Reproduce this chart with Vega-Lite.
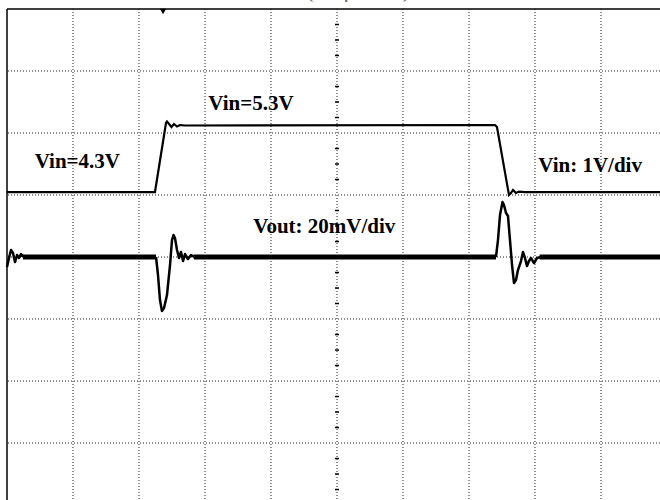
{
  "$schema": "https://vega.github.io/schema/vega-lite/v6.json",
  "width": 653,
  "height": 491,
  "autosize": {"type": "none"},
  "padding": {"left": 7, "top": 9, "right": 0, "bottom": 0},
  "background": "white",
  "config": {"view": {"stroke": null}},
  "datasets": {
    "gridx": [{"t": 1}, {"t": 2}, {"t": 3}, {"t": 4}, {"t": 5}, {"t": 6}, {"t": 7}, {"t": 8}, {"t": 9}],
    "gridy": [{"v": 1}, {"v": 2}, {"v": 3}, {"v": 4}, {"v": 5}, {"v": 6}, {"v": 7}],
    "ticks": [
      {"v": 0.25}, {"v": 0.5}, {"v": 0.75}, {"v": 1.25}, {"v": 1.5}, {"v": 1.75},
      {"v": 2.25}, {"v": 2.5}, {"v": 2.75}, {"v": 3.25}, {"v": 3.5}, {"v": 3.75},
      {"v": 4.25}, {"v": 4.5}, {"v": 4.75}, {"v": 5.25}, {"v": 5.5}, {"v": 5.75},
      {"v": 6.25}, {"v": 6.5}, {"v": 6.75}, {"v": 7.25}, {"v": 7.5}, {"v": 7.75}
    ],
    "vin": [
      {"t": 0, "v": 5.048}, {"t": 2.242, "v": 5.048}, {"t": 2.409, "v": 6.161},
      {"t": 2.424, "v": 6.185}, {"t": 2.455, "v": 6.145}, {"t": 2.492, "v": 6.097},
      {"t": 2.53, "v": 6.145}, {"t": 2.576, "v": 6.105}, {"t": 2.621, "v": 6.129},
      {"t": 2.697, "v": 6.121}, {"t": 7.394, "v": 6.129}, {"t": 7.424, "v": 6.097},
      {"t": 7.606, "v": 5.0}, {"t": 7.636, "v": 5.032}, {"t": 7.667, "v": 5.081},
      {"t": 7.712, "v": 5.032}, {"t": 7.758, "v": 5.056}, {"t": 7.848, "v": 5.048},
      {"t": 9.894, "v": 5.048}
    ],
    "vout": [
      {"seg": "tr0", "state": "transient", "t": 0, "v": 3.839},
      {"seg": "tr0", "state": "transient", "t": 0.03, "v": 3.984},
      {"seg": "tr0", "state": "transient", "t": 0.061, "v": 4.113},
      {"seg": "tr0", "state": "transient", "t": 0.091, "v": 4.065},
      {"seg": "tr0", "state": "transient", "t": 0.121, "v": 3.919},
      {"seg": "tr0", "state": "transient", "t": 0.152, "v": 4.032},
      {"seg": "tr0", "state": "transient", "t": 0.182, "v": 3.984},
      {"seg": "tr0", "state": "transient", "t": 0.212, "v": 4.048},
      {"seg": "tr0", "state": "transient", "t": 0.258, "v": 4.0},
      {"seg": "s1", "state": "settled", "t": 0.24, "v": 4.0},
      {"seg": "s1", "state": "settled", "t": 2.258, "v": 4.0},
      {"seg": "tr1", "state": "transient", "t": 2.258, "v": 4.0},
      {"seg": "tr1", "state": "transient", "t": 2.288, "v": 3.71},
      {"seg": "tr1", "state": "transient", "t": 2.318, "v": 3.306},
      {"seg": "tr1", "state": "transient", "t": 2.348, "v": 3.129},
      {"seg": "tr1", "state": "transient", "t": 2.379, "v": 3.177},
      {"seg": "tr1", "state": "transient", "t": 2.424, "v": 3.387},
      {"seg": "tr1", "state": "transient", "t": 2.47, "v": 3.871},
      {"seg": "tr1", "state": "transient", "t": 2.5, "v": 4.274},
      {"seg": "tr1", "state": "transient", "t": 2.523, "v": 4.355},
      {"seg": "tr1", "state": "transient", "t": 2.545, "v": 4.306},
      {"seg": "tr1", "state": "transient", "t": 2.576, "v": 4.113},
      {"seg": "tr1", "state": "transient", "t": 2.606, "v": 3.984},
      {"seg": "tr1", "state": "transient", "t": 2.636, "v": 4.081},
      {"seg": "tr1", "state": "transient", "t": 2.667, "v": 3.935},
      {"seg": "tr1", "state": "transient", "t": 2.697, "v": 4.048},
      {"seg": "tr1", "state": "transient", "t": 2.742, "v": 3.968},
      {"seg": "tr1", "state": "transient", "t": 2.788, "v": 4.032},
      {"seg": "tr1", "state": "transient", "t": 2.848, "v": 4.0},
      {"seg": "s2", "state": "settled", "t": 2.83, "v": 4.0},
      {"seg": "s2", "state": "settled", "t": 7.409, "v": 4.0},
      {"seg": "tr2", "state": "transient", "t": 7.409, "v": 4.0},
      {"seg": "tr2", "state": "transient", "t": 7.439, "v": 4.274},
      {"seg": "tr2", "state": "transient", "t": 7.47, "v": 4.677},
      {"seg": "tr2", "state": "transient", "t": 7.508, "v": 4.887},
      {"seg": "tr2", "state": "transient", "t": 7.53, "v": 4.839},
      {"seg": "tr2", "state": "transient", "t": 7.561, "v": 4.71},
      {"seg": "tr2", "state": "transient", "t": 7.591, "v": 4.661},
      {"seg": "tr2", "state": "transient", "t": 7.621, "v": 4.274},
      {"seg": "tr2", "state": "transient", "t": 7.652, "v": 3.871},
      {"seg": "tr2", "state": "transient", "t": 7.682, "v": 3.581},
      {"seg": "tr2", "state": "transient", "t": 7.712, "v": 3.629},
      {"seg": "tr2", "state": "transient", "t": 7.742, "v": 3.79},
      {"seg": "tr2", "state": "transient", "t": 7.788, "v": 3.935},
      {"seg": "tr2", "state": "transient", "t": 7.818, "v": 4.081},
      {"seg": "tr2", "state": "transient", "t": 7.848, "v": 3.984},
      {"seg": "tr2", "state": "transient", "t": 7.879, "v": 3.855},
      {"seg": "tr2", "state": "transient", "t": 7.909, "v": 3.935},
      {"seg": "tr2", "state": "transient", "t": 7.939, "v": 3.984},
      {"seg": "tr2", "state": "transient", "t": 7.985, "v": 3.903},
      {"seg": "tr2", "state": "transient", "t": 8.03, "v": 3.984},
      {"seg": "tr2", "state": "transient", "t": 8.091, "v": 4.0},
      {"seg": "s3", "state": "settled", "t": 8.07, "v": 4.0},
      {"seg": "s3", "state": "settled", "t": 9.894, "v": 4.0}
    ],
    "labels": [
      {"t": 0.42, "v": 5.435, "label": "Vin=4.3V"},
      {"t": 3.05, "v": 6.371, "label": "Vin=5.3V"},
      {"t": 3.73, "v": 4.387, "label": "Vout: 20mV/div"},
      {"t": 8.05, "v": 5.376, "label": "Vin: 1V/div"}
    ],
    "trigger": [{"t": 2.364, "v": 7.96}],
    "heading": [{"t": 5.318, "v": 8.2, "label": "(10 μs/div)"}]
  },
  "layer": [
    {
      "data": {"name": "gridx"},
      "mark": {"type": "rule", "strokeDash": [1, 2], "color": "#222", "strokeWidth": 1},
      "encoding": {
        "x": {"field": "t", "type": "quantitative", "scale": {"domain": [0, 9.894], "nice": false, "zero": false}, "axis": null}
      }
    },
    {
      "data": {"name": "gridy"},
      "mark": {"type": "rule", "strokeDash": [1, 2], "color": "#222", "strokeWidth": 1},
      "encoding": {
        "y": {"field": "v", "type": "quantitative", "scale": {"domain": [0.081, 8], "nice": false, "zero": false}, "axis": null}
      }
    },
    {
      "data": {"name": "ticks"},
      "mark": {"type": "rule", "color": "#000", "strokeWidth": 1.5},
      "encoding": {
        "y": {"field": "v", "type": "quantitative"},
        "x": {"datum": 4.97, "type": "quantitative"},
        "x2": {"datum": 5.03}
      }
    },
    {
      "data": {"values": [{"v": 8}]},
      "mark": {"type": "rule", "color": "#000", "strokeWidth": 1.5},
      "encoding": {"y": {"field": "v", "type": "quantitative"}}
    },
    {
      "data": {"values": [{"t": 0}]},
      "mark": {"type": "rule", "color": "#000", "strokeWidth": 1.5},
      "encoding": {"x": {"field": "t", "type": "quantitative"}}
    },
    {
      "data": {"name": "vin"},
      "mark": {"type": "line", "color": "#000", "strokeWidth": 2.2},
      "encoding": {
        "x": {"field": "t", "type": "quantitative"},
        "y": {"field": "v", "type": "quantitative"}
      }
    },
    {
      "data": {"name": "vout"},
      "mark": {"type": "line", "color": "#000", "strokeJoin": "round", "strokeCap": "butt"},
      "encoding": {
        "x": {"field": "t", "type": "quantitative"},
        "y": {"field": "v", "type": "quantitative"},
        "detail": {"field": "seg", "type": "nominal"},
        "strokeWidth": {"field": "state", "type": "nominal", "scale": {"domain": ["settled", "transient"], "range": [5, 2.5]}, "legend": null},
        "order": {"field": "t", "type": "quantitative"}
      }
    },
    {
      "data": {"name": "labels"},
      "mark": {"type": "text", "font": "Liberation Serif", "fontWeight": "bold", "fontSize": 21, "align": "left", "baseline": "alphabetic", "color": "#000"},
      "encoding": {
        "x": {"field": "t", "type": "quantitative"},
        "y": {"field": "v", "type": "quantitative"},
        "text": {"field": "label"}
      }
    },
    {
      "data": {"name": "trigger"},
      "mark": {"type": "point", "shape": "triangle-down", "filled": true, "color": "#000", "size": 40, "opacity": 1},
      "encoding": {
        "x": {"field": "t", "type": "quantitative"},
        "y": {"field": "v", "type": "quantitative"}
      }
    },
    {
      "data": {"name": "heading"},
      "mark": {"type": "text", "font": "Liberation Serif", "fontSize": 24, "align": "center", "baseline": "alphabetic", "color": "#666", "clip": false},
      "encoding": {
        "x": {"field": "t", "type": "quantitative"},
        "y": {"field": "v", "type": "quantitative"},
        "text": {"field": "label"}
      }
    }
  ]
}
